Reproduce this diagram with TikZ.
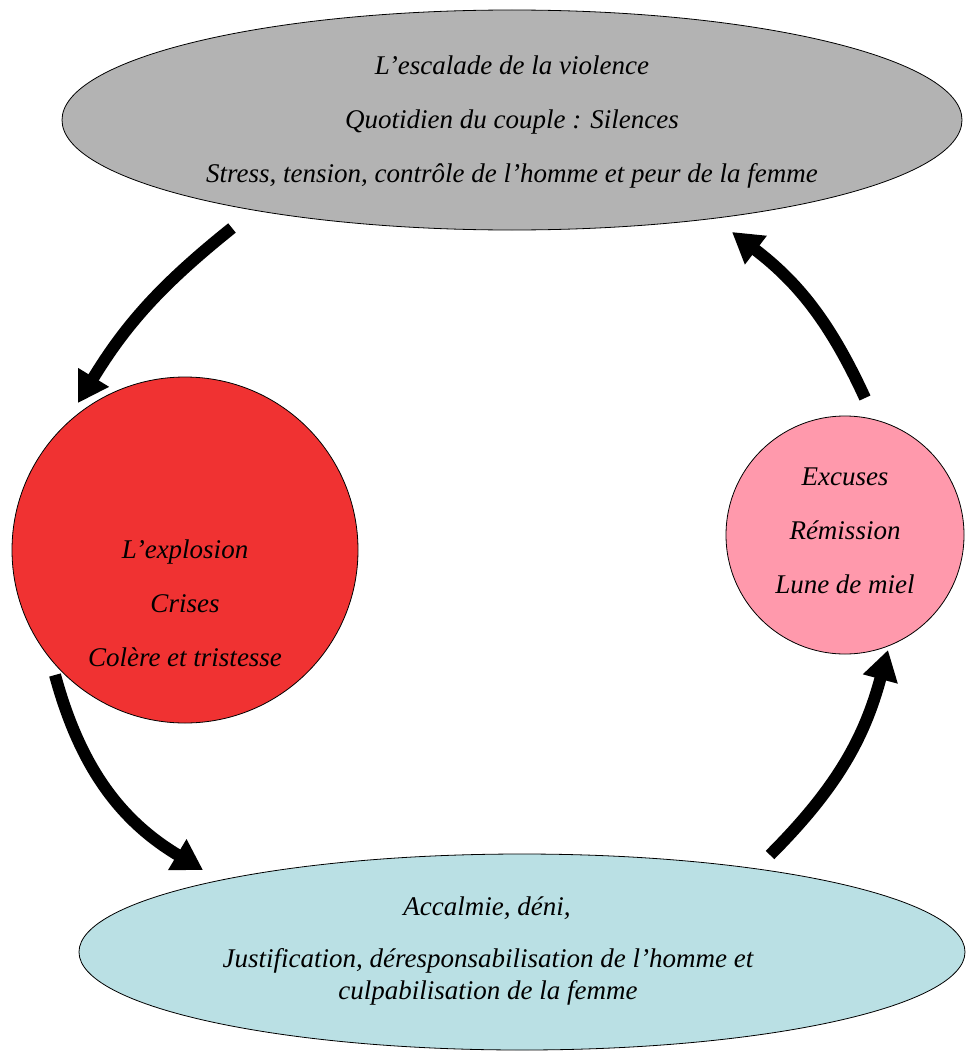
\documentclass[tikz,border=0pt]{standalone}
\usepackage{fontspec}
\setmainfont{Liberation Serif}
\usetikzlibrary{shapes.geometric,arrows.meta}
\definecolor{topgray}{RGB}{179,179,179}
\definecolor{redfill}{RGB}{240,50,50}
\definecolor{pinkfill}{RGB}{255,153,172}
\definecolor{cyanfill}{RGB}{186,224,228}
\tikzset{
  phase/.style={draw=black, line width=0.8pt, inner sep=0pt},
  ptext/.style={font=\itshape\fontsize{27}{54}\selectfont, align=center, inner sep=0pt},
  cycarrow/.style={line width=12pt, -{Triangle[length=30pt,width=34pt]}},
}
\begin{document}
\begin{tikzpicture}[x=1pt,y=-1pt]
\useasboundingbox (0,0) rectangle (968,1057);
% shapes
\node[phase, ellipse, fill=topgray, minimum width=900pt, minimum height=220pt] (top) at (512,120) {};
\node[phase, circle, fill=redfill, minimum size=346pt] (red) at (185,550) {};
\node[phase, circle, fill=pinkfill, minimum size=238pt] (pink) at (845,535) {};
\node[phase, ellipse, fill=cyanfill, minimum width=886pt, minimum height=196pt] (bot) at (522,952) {};
% texts
\node[ptext] (toptext) at (512,122) {L’escalade de la violence\\Quotidien du couple : Silences\\Stress, tension, contrôle de l’homme et peur de la femme};
\node[ptext] (redtext) at (185,603) {L’explosion\\Crises\\Colère et tristesse};
\node[ptext] (pinktext) at (845,531) {Excuses\\Rémission\\Lune de miel};
\node[ptext] (bottext1) at (487,908) {Accalmie, déni,};
\node[ptext, font=\itshape\fontsize{27}{32}\selectfont] (bottext2) at (488,977) {Justification, déresponsabilisation de l’homme et\\culpabilisation de la femme};
% connector ends
\coordinate (a1s) at (232,228);
\coordinate (a1e) at (78,403);
\coordinate (a2s) at (55,675);
\coordinate (a2e) at (203,870);
\coordinate (a3s) at (770,855);
\coordinate (a3e) at (888,650);
\coordinate (a4s) at (865,398);
\coordinate (a4e) at (732,232);
% arrows
\draw[cycarrow] (a1s) to[bend right=10] (a1e);
\draw[cycarrow] (a2s) to[bend right=22] (a2e);
\draw[cycarrow] (a3s) to[bend right=15] (a3e);
\draw[cycarrow] (a4s) to[bend right=14] (a4e);
\end{tikzpicture}
\end{document}
